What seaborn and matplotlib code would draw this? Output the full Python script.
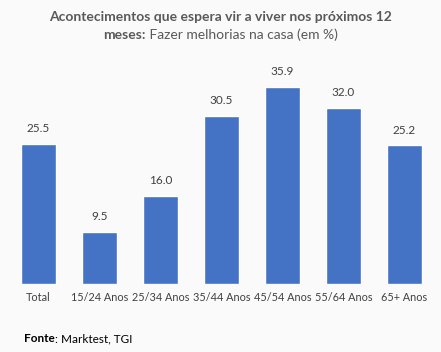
import matplotlib
matplotlib.use("Agg")
from matplotlib import pyplot as plt
import seaborn as sns
import pandas as pd

categories = ["Total", "15/24 Anos", "25/34 Anos", "35/44 Anos",
              "45/54 Anos", "55/64 Anos", "65+ Anos"]
values = [25.5, 9.5, 16.0, 30.5, 35.9, 32.0, 25.2]

df = pd.DataFrame({"grupo": categories, "pct": values})

sns.set_theme(style="white")
plt.rcParams["font.family"] = ["Lato", "DejaVu Sans"]

bg = "#FAFAFA"
fig = plt.figure(figsize=(4.41, 3.52), dpi=100, facecolor=bg)
ax = fig.add_axes([0.018, 0.193, 0.968, 0.625], facecolor=bg)

sns.barplot(data=df, x="grupo", y="pct", color="#4472C4", width=0.57,
            saturation=1, ax=ax)

for i, v in enumerate(values):
    ax.text(i, v + 1.8, f"{v:.1f}", ha="center", va="bottom",
            fontsize=8.5, color="#404040")

ax.set_ylim(0, 40)
ax.set_xlim(-0.5, 6.5)
ax.set_xlabel("")
ax.set_ylabel("")
ax.set_yticks([])
ax.tick_params(axis="x", length=0, pad=6, labelsize=7.8, colors="#404040")
sns.despine(ax=ax, left=True, bottom=True)

renderer = fig.canvas.get_renderer()


def two_part(x, y, bold_txt, rest, size, color, center=True):
    # bold part followed by normal part on one line
    t1 = fig.text(0, y, bold_txt, ha="left", va="center", fontsize=size,
                  fontweight="bold", color=color)
    t2 = fig.text(0, y, rest, ha="left", va="center", fontsize=size, color=color)
    w1 = t1.get_window_extent(renderer).width / fig.bbox.width
    w2 = t2.get_window_extent(renderer).width / fig.bbox.width
    x0 = x - (w1 + w2) / 2 if center else x
    t1.set_x(x0)
    t2.set_x(x0 + w1)


fig.text(0.5, 0.952, "Acontecimentos que espera vir a viver nos próximos 12",
         ha="center", va="center", fontsize=10, fontweight="bold", color="#595959")
two_part(0.5, 0.9, "meses:", " Fazer melhorias na casa (em %)", 10, "#595959")
two_part(0.054, 0.037, "Fonte", ": Marktest, TGI", 8.5, "#000000", center=False)

fig.savefig("out.png", dpi=100, facecolor=bg)
